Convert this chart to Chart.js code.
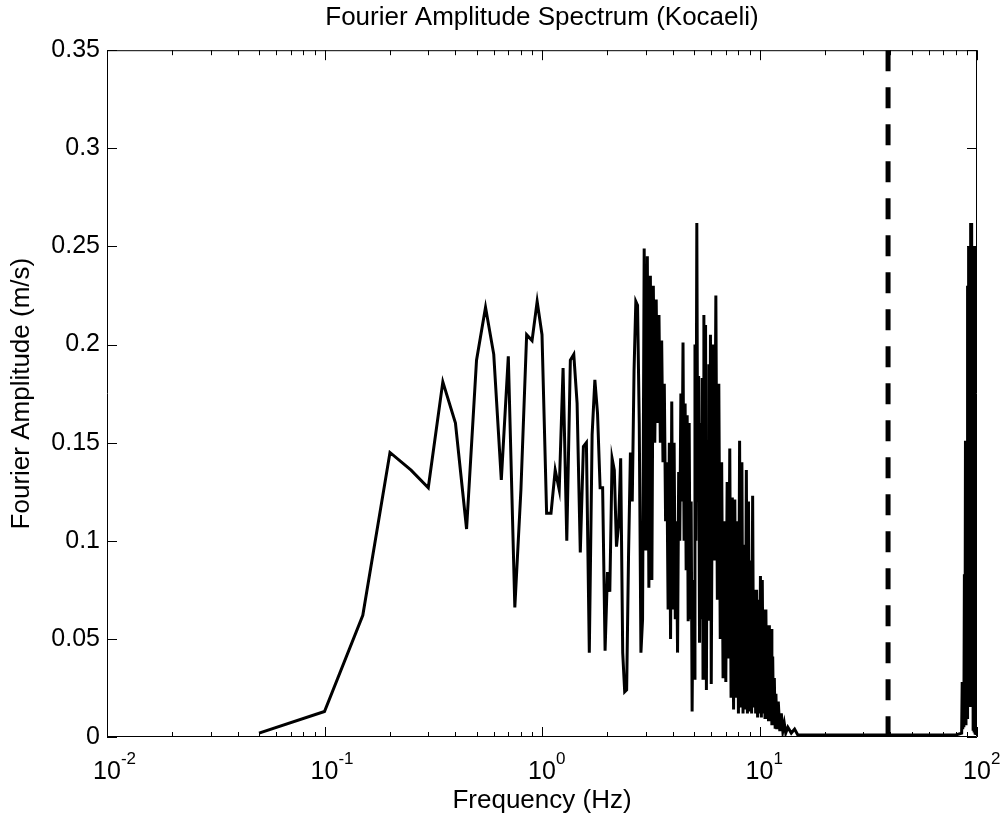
<!DOCTYPE html>
<html>
<head>
<meta charset="utf-8">
<script src="https://cdn.jsdelivr.net/npm/chart.js@4.4.1/dist/chart.umd.min.js"></script>
<style>
  html, body { margin: 0; padding: 0; background: #fff; }
  canvas { display: block; }
</style>
</head>
<body>
<canvas id="fas" width="1000" height="824"></canvas>
<script>
// Fourier amplitude spectrum: [frequency (Hz), amplitude (m/s)]
const rampUp = [
	[0.05, 0.002], [0.10, 0.013], [0.15, 0.062], [0.20, 0.145], [0.25, 0.136],
	[0.30, 0.127], [0.35, 0.181], [0.40, 0.160], [0.45, 0.106], [0.50, 0.192],
	[0.55, 0.219], [0.60, 0.195], [0.65, 0.131], [0.70, 0.194], [0.75, 0.066],
	[0.80, 0.126], [0.85, 0.205], [0.90, 0.202], [0.95, 0.222], [1.00, 0.205],
];

const midBand = [
	[1.05, 0.114], [1.10, 0.114], [1.15, 0.136], [1.20, 0.126], [1.25, 0.188],
	[1.30, 0.100], [1.35, 0.192], [1.40, 0.195], [1.45, 0.170], [1.50, 0.094],
	[1.55, 0.148], [1.60, 0.150], [1.65, 0.043], [1.70, 0.154], [1.75, 0.182],
	[1.80, 0.165], [1.85, 0.127], [1.90, 0.127], [1.95, 0.044], [2.00, 0.084],
	[2.05, 0.074], [2.10, 0.142], [2.15, 0.136], [2.20, 0.097], [2.25, 0.108],
	[2.30, 0.142], [2.35, 0.043], [2.40, 0.023], [2.45, 0.024], [2.50, 0.093],
	[2.55, 0.145], [2.60, 0.120], [2.65, 0.187], [2.70, 0.222], [2.75, 0.220],
	[2.80, 0.160], [2.85, 0.043], [2.90, 0.060],
];

const denseBand = [
	[2.95, 0.249], [3.00, 0.095], [3.05, 0.245], [3.10, 0.076], [3.15, 0.235],
	[3.20, 0.080], [3.25, 0.230], [3.30, 0.150], [3.35, 0.223], [3.40, 0.160],
	[3.45, 0.215], [3.50, 0.150], [3.55, 0.202], [3.60, 0.140], [3.65, 0.180],
	[3.70, 0.110], [3.75, 0.140], [3.80, 0.065], [3.85, 0.150], [3.90, 0.050],
	[3.95, 0.171], [4.00, 0.065], [4.05, 0.150], [4.10, 0.060], [4.15, 0.110],
	[4.20, 0.043], [4.25, 0.135], [4.30, 0.100], [4.35, 0.175], [4.40, 0.120],
	[4.45, 0.201], [4.50, 0.100], [4.55, 0.170], [4.60, 0.085], [4.65, 0.164],
	[4.70, 0.059], [4.75, 0.160], [4.80, 0.060], [4.85, 0.120], [4.90, 0.013],
	[4.95, 0.080], [5.00, 0.030], [5.05, 0.200], [5.10, 0.100], [5.15, 0.262],
	[5.20, 0.120], [5.25, 0.184], [5.30, 0.048], [5.35, 0.160], [5.40, 0.060],
	[5.45, 0.183], [5.50, 0.030], [5.55, 0.215], [5.60, 0.050], [5.65, 0.210],
	[5.70, 0.024], [5.75, 0.150], [5.80, 0.060], [5.85, 0.190], [5.90, 0.076],
	[5.95, 0.205], [6.00, 0.027], [6.10, 0.200], [6.20, 0.090], [6.30, 0.225],
	[6.40, 0.070], [6.50, 0.180], [6.60, 0.050], [6.70, 0.140], [6.80, 0.030],
	[6.90, 0.110], [7.00, 0.028], [7.10, 0.130], [7.20, 0.040], [7.30, 0.147],
	[7.40, 0.020], [7.50, 0.122], [7.60, 0.014], [7.70, 0.121], [7.80, 0.020],
	[7.90, 0.110], [8.00, 0.012], [8.10, 0.151], [8.20, 0.015], [8.30, 0.140],
	[8.40, 0.012], [8.50, 0.098], [8.60, 0.014], [8.70, 0.136], [8.80, 0.012],
	[8.90, 0.120], [9.00, 0.013], [9.10, 0.090], [9.20, 0.012], [9.30, 0.123],
	[9.40, 0.015], [9.50, 0.075], [9.60, 0.012], [9.70, 0.075], [9.80, 0.010],
	[9.90, 0.070], [10.0, 0.012], [10.1, 0.082], [10.2, 0.010], [10.3, 0.080],
	[10.4, 0.012], [10.5, 0.065], [10.6, 0.010], [10.7, 0.065], [10.8, 0.010],
	[10.9, 0.057], [11.0, 0.008], [11.1, 0.057], [11.2, 0.008], [11.3, 0.055],
	[11.4, 0.006], [11.5, 0.041], [11.6, 0.006], [11.7, 0.030], [11.8, 0.005],
	[11.9, 0.022], [12.0, 0.004], [12.2, 0.018], [12.4, 0.003], [12.6, 0.012],
	[12.8, 0.003], [13.0, 0.007], [13.2, 0.002], [13.5, 0.005], [14.0, 0.002],
	[14.5, 0.004],
];

const tail = [
	[15, 0.001], [20, 0.001], [30, 0.001], [40, 0.001], [50, 0.001],
	[60, 0.001], [70, 0.001], [80, 0.001], [85, 0.002],
];

// aliased energy just below 100 Hz
const aliasSpike = [
	[85.5, 0.028], [86.0, 0.004], [86.5, 0.028], [87.0, 0.005], [87.5, 0.083],
	[88.0, 0.006], [88.5, 0.151], [89.0, 0.006], [89.5, 0.151], [90.0, 0.010],
	[90.5, 0.230], [91.0, 0.016], [91.5, 0.250], [92.0, 0.016], [92.5, 0.250],
	[93.0, 0.017], [93.5, 0.262], [94.0, 0.016], [94.5, 0.262], [95.0, 0.016],
	[95.5, 0.250], [96.0, 0.004], [96.5, 0.250], [97.0, 0.003], [97.5, 0.250],
	[98.0, 0.002], [98.5, 0.150], [99.0, 0.001],
];

const cutoffHz = 39;
const yTicks = [0, 0.05, 0.1, 0.15, 0.2, 0.25, 0.3, 0.35];
const decades = [-2, -1, 0, 1, 2];

const FONT = "'Liberation Sans', Arial, Helvetica, sans-serif";

const spectrum = rampUp
	.concat(midBand, denseBand, tail, aliasSpike)
	.map(([f, a]) => ({ x: f, y: a }));

// MATLAB style box with inward ticks and 10^n labels
const matlabAxes = {
	id: "matlabAxes",
	afterDatasetsDraw(chart) {
		const { ctx, chartArea: a, scales } = chart;
		const xs = scales.x;
		const ys = scales.y;
		ctx.save();
		ctx.strokeStyle = "#000";
		ctx.lineWidth = 1;
		ctx.beginPath();
		ctx.rect(a.left + 0.5, a.top + 0.5, a.width - 1, a.height - 1);

		decades.forEach((e) => {
			for (let m = 1; m <= 9; m++) {
				const v = m * Math.pow(10, e);
				if (v > 100) break;
				const px = Math.round(xs.getPixelForValue(v)) + 0.5;
				const len = m === 1 ? 10 : 5;
				ctx.moveTo(px, a.bottom);
				ctx.lineTo(px, a.bottom - len);
				ctx.moveTo(px, a.top);
				ctx.lineTo(px, a.top + len);
			}
		});

		yTicks.forEach((t) => {
			const py = Math.round(ys.getPixelForValue(t)) + 0.5;
			ctx.moveTo(a.left, py);
			ctx.lineTo(a.left + 10, py);
			ctx.moveTo(a.right, py);
			ctx.lineTo(a.right - 10, py);
		});
		ctx.stroke();

		// decade labels
		ctx.fillStyle = "#000";
		ctx.textBaseline = "middle";
		decades.forEach((e) => {
			const px = xs.getPixelForValue(Math.pow(10, e));
			ctx.font = "25px " + FONT;
			ctx.textAlign = "center";
			ctx.fillText("10", px, a.bottom + 35);
			const w = ctx.measureText("10").width;
			ctx.font = "17px " + FONT;
			ctx.textAlign = "left";
			ctx.fillText(String(e), px + w / 2, a.bottom + 22);
		});
		ctx.restore();
	},
};

const ctx = document.getElementById("fas").getContext("2d");
const fasChart = new Chart(ctx, {
	type: "scatter",
	data: {
		datasets: [
			{
				label: "FAS",
				data: spectrum,
				showLine: true,
				borderColor: "#000",
				borderWidth: 3,
				pointRadius: 0,
				tension: 0,
			},
			{
				label: "cutoff",
				data: [
					{ x: cutoffHz, y: 0.35 },
					{ x: cutoffHz, y: 0 },
				],
				showLine: true,
				borderColor: "#000",
				borderWidth: 5,
				borderDash: [21, 16],
				borderCapStyle: "butt",
				pointRadius: 0,
			},
		],
	},
	options: {
		responsive: false,
		animation: false,
		layout: { padding: { left: 0, right: 23, top: 0, bottom: 0 } },
		plugins: {
			legend: { display: false },
			tooltip: { enabled: false },
			title: {
				display: true,
				fullSize: false,
				text: "Fourier Amplitude Spectrum (Kocaeli)",
				color: "#000",
				font: { family: FONT, size: 26, weight: "normal" },
				padding: { top: 2, bottom: 17 },
			},
		},
		scales: {
			x: {
				type: "logarithmic",
				min: 0.01,
				max: 100,
				grid: { display: false, drawTicks: false },
				border: { display: false },
				ticks: { display: false },
				title: {
					display: true,
					text: "Frequency (Hz)",
					color: "#000",
					font: { family: FONT, size: 26 },
					padding: { top: 0, bottom: 8 },
				},
				afterFit: (scale) => {
					scale.height = 87;
				},
			},
			y: {
				min: 0,
				max: 0.35,
				grid: { display: false, drawTicks: false },
				border: { display: false },
				ticks: {
					stepSize: 0.05,
					color: "#000",
					padding: 7,
					font: { family: FONT, size: 25 },
					callback: (v) => String(parseFloat(v.toFixed(2))),
				},
				title: {
					display: true,
					text: "Fourier Amplitude (m/s)",
					color: "#000",
					font: { family: FONT, size: 26 },
					padding: { top: 6, bottom: 0 },
				},
				afterFit: (scale) => {
					scale.width = 107;
				},
			},
		},
	},
	plugins: [matlabAxes],
});
</script>
</body>
</html>
